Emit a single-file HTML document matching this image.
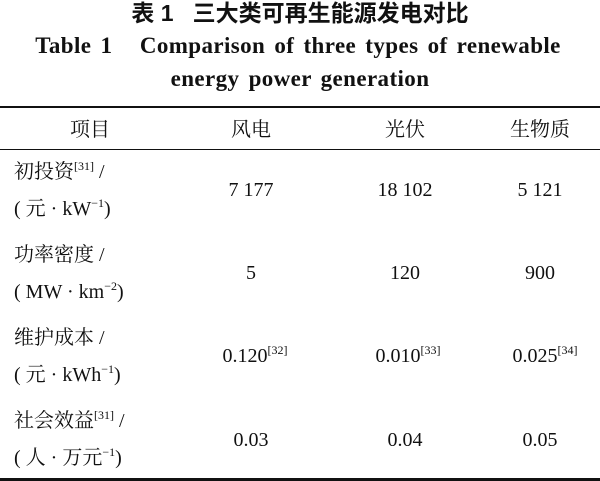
<!DOCTYPE html>
<html><head><meta charset="utf-8"><style>
html,body{margin:0;padding:0;background:#fff}
body{width:600px;height:481px;position:relative;overflow:hidden;font-family:"Liberation Serif","Noto Serif CJK SC",serif;color:#111}
.t{position:absolute;white-space:nowrap;font-size:20px;line-height:24px}
.c{transform:translateX(-50%)}
.b{font-weight:bold}
.cjk{font-family:"Liberation Serif","Noto Serif CJK SC",serif}
sup{font-size:12px;vertical-align:0;position:relative;top:-8px}
.rule{position:absolute;left:0;width:600px;background:#111}
</style></head><body>
<div class="t c b" style="left:300px;top:1px;font-size:23px;font-family:'Liberation Sans','Noto Sans CJK SC',sans-serif">表 1 &nbsp;&nbsp;三大类可再生能源发电对比</div>
<div class="t c b" style="left:298px;top:34px;font-size:23px;letter-spacing:0.4px;word-spacing:3px">Table 1 &nbsp;&nbsp;Comparison of three types of renewable</div>
<div class="t c b" style="left:300px;top:67px;font-size:23px;letter-spacing:0.4px;word-spacing:3px">energy power generation</div>
<div class="rule" style="top:106px;height:2px"></div>
<div class="t c cjk" style="left:90px;top:118px">项目</div>
<div class="t c cjk" style="left:251px;top:118px">风电</div>
<div class="t c cjk" style="left:405px;top:118px">光伏</div>
<div class="t c cjk" style="left:540px;top:118px">生物质</div>
<div class="rule" style="top:149px;height:1px"></div>

<div class="t cjk" style="left:14px;top:160px">初投资<sup>[31]</sup> /</div>
<div class="t cjk" style="left:14px;top:197px">( 元 · kW<sup>−1</sup>)</div>
<div class="t c" style="left:251px;top:178px">7 177</div>
<div class="t c" style="left:405px;top:178px">18 102</div>
<div class="t c" style="left:540px;top:178px">5 121</div>

<div class="t cjk" style="left:14px;top:243px">功率密度 /</div>
<div class="t cjk" style="left:14px;top:280px">( MW · km<sup>−2</sup>)</div>
<div class="t c" style="left:251px;top:261px">5</div>
<div class="t c" style="left:405px;top:261px">120</div>
<div class="t c" style="left:540px;top:261px">900</div>

<div class="t cjk" style="left:14px;top:326px">维护成本 /</div>
<div class="t cjk" style="left:14px;top:363px">( 元 · kWh<sup>−1</sup>)</div>
<div class="t c" style="left:255px;top:344px">0.120<sup>[32]</sup></div>
<div class="t c" style="left:408px;top:344px">0.010<sup>[33]</sup></div>
<div class="t c" style="left:545px;top:344px">0.025<sup>[34]</sup></div>

<div class="t cjk" style="left:14px;top:409px">社会效益<sup>[31]</sup> /</div>
<div class="t cjk" style="left:14px;top:446px">( 人 · 万元<sup>−1</sup>)</div>
<div class="t c" style="left:251px;top:428px">0.03</div>
<div class="t c" style="left:405px;top:428px">0.04</div>
<div class="t c" style="left:540px;top:428px">0.05</div>
<div class="rule" style="top:478px;height:3px"></div>
</body></html>
